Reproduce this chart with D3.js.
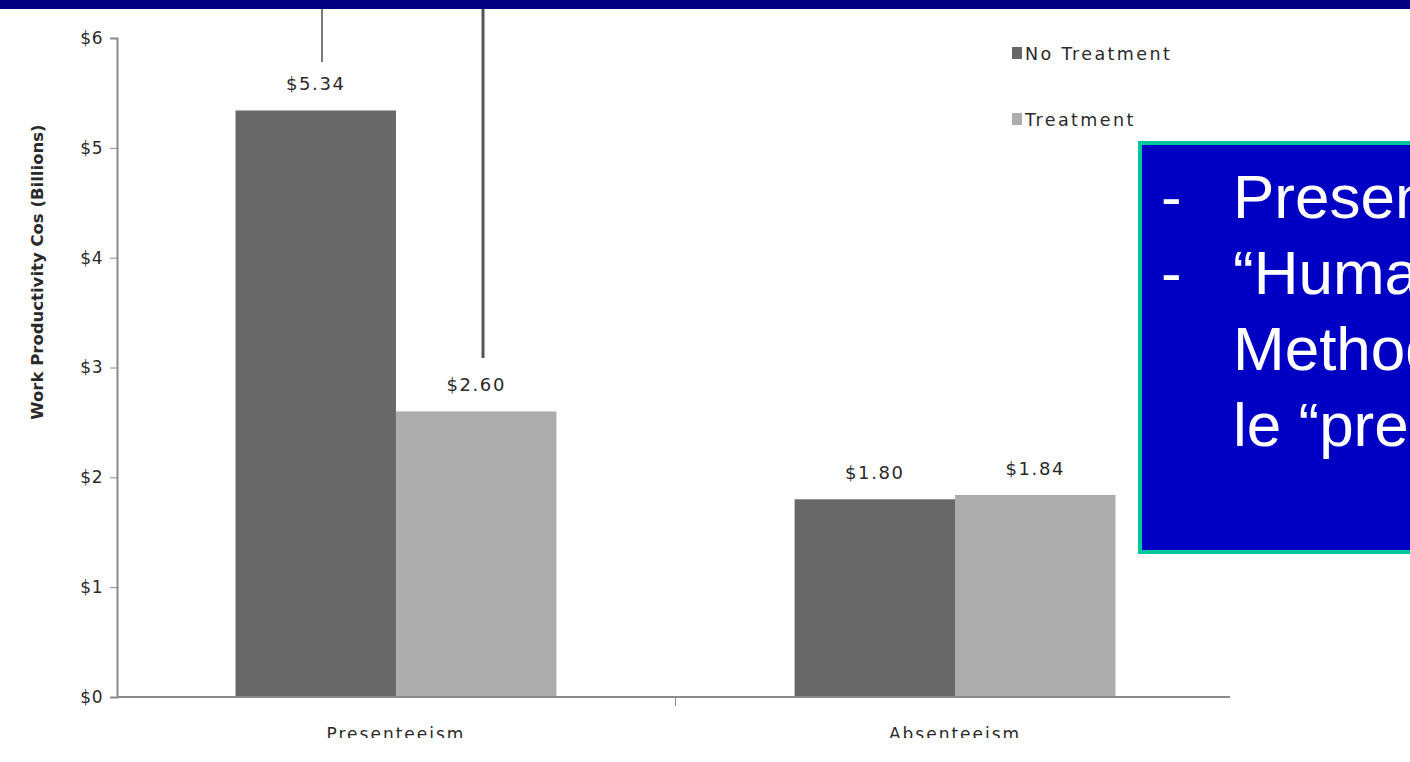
<!DOCTYPE html>
<html>
<head>
<meta charset="utf-8">
<script src="https://cdn.jsdelivr.net/npm/d3@7"></script>
<style>
  body { margin: 0; background: #fff; overflow: hidden; }
  svg { display: block; }
</style>
</head>
<body>
<div id="chart"></div>
<script>
var categories = ["Presenteeism", "Absenteeism"];
var series = ["No Treatment", "Treatment"];
var noTreatment = [5.34, 1.80];
var treatment = [2.60, 1.84];
var yTicks = [0, 1, 2, 3, 4, 5, 6];
var boxLines = [
	{ dash: "-", text: "Presenteeism" },
	{ dash: "-", text: "\u201cHuman Capital" },
	{ dash: "", text: "Method" },
	{ dash: "", text: "le \u201cpresenteeism\u201d" }
];

function init() {
	var w = 1410;
	var h = 762;
	var left = 117, right = 1230, top = 38, bottom = 697;

	var svg = d3.select("#chart")
		.append("svg")
		.attr("width", w)
		.attr("height", h);

	svg.append("defs").append("clipPath")
		.attr("id", "cut")
		.append("rect")
		.attr("x", 0).attr("y", 0)
		.attr("width", w).attr("height", 738);

	var g = svg.append("g").attr("clip-path", "url(#cut)");

	var colour = d3.scaleOrdinal()
		.domain(series)
		.range(["#686868", "#adadad"]);

	var x0 = d3.scaleBand()
		.domain(categories)
		.range([left, 1234])
		.paddingInner(0.426)
		.paddingOuter(0.212);

	var x1 = d3.scaleBand()
		.domain(series)
		.range([0, x0.bandwidth()]);

	var y = d3.scaleLinear()
		.domain([0, 6])
		.range([bottom, top]);

	var dataset = [];
	categories.forEach(function(c, i) {
		dataset.push({ cat: c, series: series[0], value: noTreatment[i] });
		dataset.push({ cat: c, series: series[1], value: treatment[i] });
	});

	// bars
	g.append("g")
		.selectAll("rect")
		.data(dataset)
		.join("rect")
			.attr("x", d => x0(d.cat) + x1(d.series))
			.attr("y", d => y(d.value))
			.attr("width", x1.bandwidth())
			.attr("height", d => y(0) - y(d.value))
			.attr("fill", d => colour(d.series));

	// value labels
	g.append("g")
		.selectAll("text")
		.data(dataset)
		.join("text")
			.attr("x", d => x0(d.cat) + x1(d.series) + x1.bandwidth() / 2)
			.attr("y", d => y(d.value) - 20)
			.attr("text-anchor", "middle")
			.attr("font-family", "DejaVu Sans")
			.attr("font-size", 18)
			.attr("letter-spacing", 1.6)
			.attr("fill", "#2a2a2a")
			.text(d => "$" + d.value.toFixed(2));

	// y axis
	var yAxis = d3.axisLeft(y)
		.tickValues(yTicks)
		.tickSize(7)
		.tickPadding(7)
		.tickFormat(d => "$" + d);

	g.append("g")
		.attr("transform", `translate(${left},0)`)
		.call(yAxis)
		.call(a => a.select(".domain").attr("stroke", "#8a8a8a").attr("stroke-width", 2))
		.call(a => a.selectAll(".tick line").attr("stroke", "#8a8a8a"))
		.call(a => a.selectAll(".tick text")
			.attr("font-family", "DejaVu Sans")
			.attr("font-size", 17)
			.attr("letter-spacing", 0.5)
			.attr("fill", "#2a2a2a"));

	// x axis with a tick between categories
	g.append("line")
		.attr("x1", left).attr("x2", right)
		.attr("y1", bottom).attr("y2", bottom)
		.attr("stroke", "#8a8a8a")
		.attr("stroke-width", 2);
	g.append("g")
		.selectAll("line")
		.data(categories.slice(1))
		.join("line")
			.attr("x1", d => x0(d) - x0.step() * x0.paddingInner() / 2)
			.attr("x2", d => x0(d) - x0.step() * x0.paddingInner() / 2)
			.attr("y1", bottom).attr("y2", bottom + 9)
			.attr("stroke", "#8a8a8a");

	g.append("g")
		.selectAll("text")
		.data(categories)
		.join("text")
			.attr("x", d => x0(d) + x0.bandwidth() / 2)
			.attr("y", bottom + 43)
			.attr("text-anchor", "middle")
			.attr("font-family", "DejaVu Sans")
			.attr("font-size", 17)
			.attr("letter-spacing", 2)
			.attr("fill", "#2a2a2a")
			.text(d => d);

	// y title
	g.append("text")
		.attr("transform", `translate(43,272) rotate(-90)`)
		.attr("text-anchor", "middle")
		.attr("font-family", "DejaVu Sans")
		.attr("font-weight", "bold")
		.attr("font-size", 16.5)
		.attr("fill", "#2a2a2a")
		.text("Work Productivity Cos (Billions)");

	// legend
	var legend = g.append("g")
		.selectAll("g")
		.data(series)
		.join("g")
			.attr("transform", (d, i) => `translate(1012,${53 + i * 66})`);
	legend.append("rect")
		.attr("x", 0).attr("y", -6)
		.attr("width", 10).attr("height", 12)
		.attr("fill", d => colour(d));
	legend.append("text")
		.attr("x", 13).attr("y", 7)
		.attr("font-family", "DejaVu Sans")
		.attr("font-size", 17.5)
		.attr("letter-spacing", 2.4)
		.attr("fill", "#2a2a2a")
		.text(d => d);

	// pointer lines from the slide
	svg.append("line")
		.attr("x1", 322).attr("x2", 322)
		.attr("y1", 0).attr("y2", 62)
		.attr("stroke", "#7a7a7a").attr("stroke-width", 2);
	svg.append("line")
		.attr("x1", 483).attr("x2", 483)
		.attr("y1", 0).attr("y2", 358)
		.attr("stroke", "#555").attr("stroke-width", 3);

	// top band
	svg.append("rect")
		.attr("x", 0).attr("y", 0)
		.attr("width", w).attr("height", 9)
		.attr("fill", "#000080");

	// text box
	svg.append("rect")
		.attr("x", 1140).attr("y", 143)
		.attr("width", 300).attr("height", 409)
		.attr("fill", "#0000c4")
		.attr("stroke", "#00c89c")
		.attr("stroke-width", 4);

	var lines = svg.append("g")
		.selectAll("g")
		.data(boxLines)
		.join("g")
			.attr("transform", (d, i) => `translate(0,${218 + i * 76})`);
	lines.append("text")
		.attr("x", 1161)
		.attr("font-family", "Liberation Sans")
		.attr("font-size", 62)
		.attr("fill", "#fff")
		.text(d => d.dash);
	lines.append("text")
		.attr("x", 1233)
		.attr("font-family", "Liberation Sans")
		.attr("font-size", 62)
		.attr("fill", "#fff")
		.text(d => d.text);
}

window.onload = init;
</script>
</body>
</html>
